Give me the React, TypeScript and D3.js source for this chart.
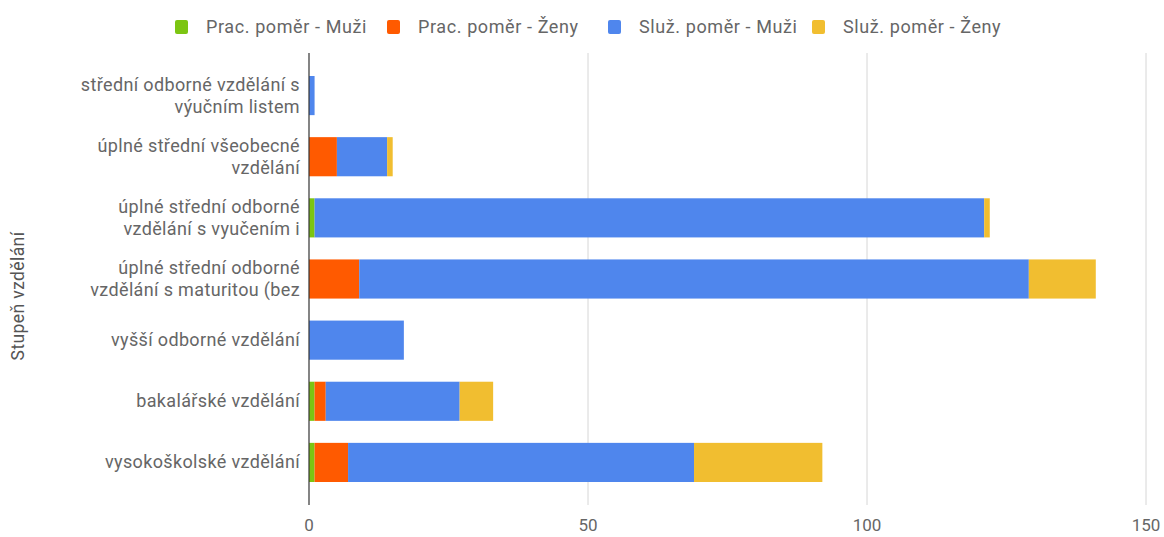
import React from 'react';
import { scaleLinear, scaleBand, stack } from 'd3';

const categories = [
  ['střední odborné vzdělání s', 'výučním listem'],
  ['úplné střední všeobecné', 'vzdělání'],
  ['úplné střední odborné', 'vzdělání s vyučením i'],
  ['úplné střední odborné', 'vzdělání s maturitou (bez'],
  ['vyšší odborné vzdělání'],
  ['bakalářské vzdělání'],
  ['vysokoškolské vzdělání'],
];
const seriesNames = ['Prac. poměr - Muži', 'Prac. poměr - Ženy', 'Služ. poměr - Muži', 'Služ. poměr - Ženy'];
const seriesColors = ['#7cc512', '#ff5a00', '#4f86ed', '#f1be30'];
const pracMuzi = [0, 0, 1, 0, 0, 1, 1];
const pracZeny = [0, 5, 0, 9, 0, 2, 6];
const sluzMuzi = [1, 9, 120, 120, 17, 24, 62];
const sluzZeny = [0, 1, 1, 12, 0, 6, 23];
const xTicks = [0, 50, 100, 150];

const W = 1164;
const H = 537;
const margin = { left: 309, right: 18, top: 65, bottom: 44 };
const font = 'Roboto, "Noto Sans", sans-serif';
const textColor = '#666';

export default function App() {
  const x = scaleLinear().domain([0, 150]).range([margin.left, W - margin.right]);
  const y = scaleBand<number>()
    .domain(categories.map((_, i) => i))
    .range([margin.top, H - margin.bottom])
    .paddingInner(0.36)
    .paddingOuter(0.18);

  const rows = categories.map((_, i) => ({
    s0: pracMuzi[i],
    s1: pracZeny[i],
    s2: sluzMuzi[i],
    s3: sluzZeny[i],
  }));
  const stacked = stack<any>().keys(['s0', 's1', 's2', 's3'])(rows);

  const legendX = [175, 387, 608, 812];

  return (
    <svg width={W} height={H} style={{ position: 'absolute', left: 0, top: 0, background: '#fff' }}>
      <rect width={W} height={H} fill="#fff" />
      {/* legend */}
      {seriesNames.map((n, i) => (
        <g key={n} transform={`translate(${legendX[i]},20)`}>
          <rect width={13} height={14} rx={2} fill={seriesColors[i]} />
          <text x={31} y={13} fontFamily={font} fontSize={18} letterSpacing={0.6} fill={textColor}>{n}</text>
        </g>
      ))}
      {/* grid */}
      {xTicks.map(t => (
        <g key={t}>
          {t !== 0 && (
            <line x1={x(t)} x2={x(t)} y1={53} y2={505} stroke="#d6d6d6" strokeWidth={1} />
          )}
          <text x={x(t)} y={531} textAnchor="middle" fontFamily={font} fontSize={17} fill={textColor}>{t}</text>
        </g>
      ))}
      {/* bars */}
      {stacked.map((layer, si) => (
        <g key={si} fill={seriesColors[si]}>
          {layer.map((d, i) =>
            d[1] - d[0] > 0 ? (
              <rect
                key={i}
                x={x(d[0])}
                y={y(i)}
                width={x(d[1]) - x(d[0])}
                height={y.bandwidth()}
              />
            ) : null,
          )}
        </g>
      ))}
      <line x1={x(0)} x2={x(0)} y1={53} y2={505} stroke="#333" strokeWidth={1.2} />
      {/* category labels */}
      {categories.map((lines, i) => {
        const cy = (y(i) as number) + y.bandwidth() / 2;
        const lh = 22;
        const start = cy - ((lines.length - 1) * lh) / 2 + 6;
        return (
          <text key={i} textAnchor="end" fontFamily={font} fontSize={18} letterSpacing={0.35} fill={textColor}>
            {lines.map((l, k) => (
              <tspan key={k} x={300} y={start + k * lh}>{l}</tspan>
            ))}
          </text>
        );
      })}
      <text
        transform="translate(24,296) rotate(-90)"
        textAnchor="middle"
        fontFamily={font}
        fontSize={17.5}
        letterSpacing={0.4}
        fill="#555"
      >
        Stupeň vzdělání
      </text>
    </svg>
  );
}
